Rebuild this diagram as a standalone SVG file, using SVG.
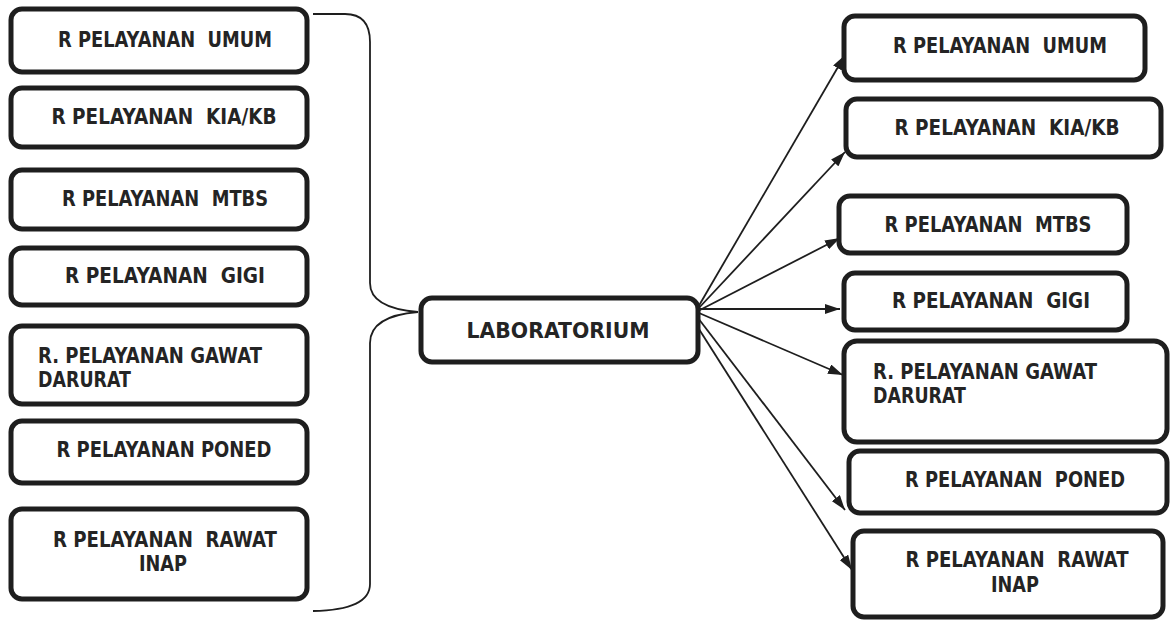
<svg xmlns="http://www.w3.org/2000/svg" width="1170" height="620" viewBox="0 0 1170 620">
  <style>
    .box { fill: #ffffff; stroke: #1e1e1e; stroke-width: 5; }
    .lbl { font-family: "DejaVu Sans", Verdana, sans-serif; font-weight: bold; font-size: 21.5px; fill: #242424; white-space: pre; }
    .mid { text-anchor: middle; }
    .wire { fill: none; stroke: #1e1e1e; stroke-width: 1.8; }
  </style>
  <defs>
    <marker id="arrow" viewBox="0 0 15 10" refX="15" refY="5" markerWidth="15" markerHeight="10" markerUnits="userSpaceOnUse" orient="auto">
      <path d="M0,0 L15,5 L0,10 Z" fill="#1e1e1e"/>
    </marker>
  </defs>
  <rect width="1170" height="620" fill="#ffffff"/>

  <!-- connectors -->
  <g id="connectors">
    <!-- brace gathering the left-hand rooms -->
    <path class="wire" d="M313,14 L345,14 Q370,14 370,42 L370,283 Q370,308 418,312"/>
    <path class="wire" d="M418,312 Q370,316 370,343 L370,584 Q370,610 313,611"/>
    <!-- arrows from the laboratory to each room -->
    <line class="wire" x1="697" y1="309" x2="845" y2="55" marker-end="url(#arrow)"/>
    <line class="wire" x1="697" y1="310" x2="845" y2="152" marker-end="url(#arrow)"/>
    <line class="wire" x1="698" y1="311" x2="840" y2="238" marker-end="url(#arrow)"/>
    <line class="wire" x1="699" y1="309" x2="840" y2="309" marker-end="url(#arrow)"/>
    <line class="wire" x1="699" y1="313" x2="843" y2="375" marker-end="url(#arrow)"/>
    <line class="wire" x1="698" y1="318" x2="845" y2="510" marker-end="url(#arrow)"/>
    <line class="wire" x1="697" y1="326" x2="852" y2="570" marker-end="url(#arrow)"/>
  </g>

  <!-- left column -->
  <g id="l-umum">
    <rect class="box" x="11" y="9" width="296" height="63" rx="11"/>
    <text class="lbl mid" x="165" y="47" xml:space="preserve" textLength="214" lengthAdjust="spacingAndGlyphs">R PELAYANAN  UMUM</text>
  </g>
  <g id="l-kia">
    <rect class="box" x="11" y="88" width="296" height="59" rx="11"/>
    <text class="lbl mid" x="164" y="124" xml:space="preserve" textLength="225" lengthAdjust="spacingAndGlyphs">R PELAYANAN  KIA/KB</text>
  </g>
  <g id="l-mtbs">
    <rect class="box" x="11" y="170" width="296" height="59" rx="11"/>
    <text class="lbl mid" x="165" y="206" xml:space="preserve" textLength="206" lengthAdjust="spacingAndGlyphs">R PELAYANAN  MTBS</text>
  </g>
  <g id="l-gigi">
    <rect class="box" x="11" y="248" width="296" height="57" rx="11"/>
    <text class="lbl mid" x="165" y="283" xml:space="preserve" textLength="200" lengthAdjust="spacingAndGlyphs">R PELAYANAN  GIGI</text>
  </g>
  <g id="l-gawat">
    <rect class="box" x="11" y="326" width="296" height="78" rx="11"/>
    <text class="lbl" x="38" y="363" textLength="224" lengthAdjust="spacingAndGlyphs">R. PELAYANAN GAWAT</text>
    <text class="lbl" x="38" y="387" textLength="93" lengthAdjust="spacingAndGlyphs">DARURAT</text>
  </g>
  <g id="l-poned">
    <rect class="box" x="11" y="421" width="296" height="62" rx="11"/>
    <text class="lbl mid" x="164" y="457" textLength="215" lengthAdjust="spacingAndGlyphs">R PELAYANAN PONED</text>
  </g>
  <g id="l-rawat">
    <rect class="box" x="11" y="509" width="296" height="90" rx="11"/>
    <text class="lbl mid" x="165" y="547" xml:space="preserve" textLength="224" lengthAdjust="spacingAndGlyphs">R PELAYANAN  RAWAT</text>
    <text class="lbl mid" x="163" y="571" textLength="48" lengthAdjust="spacingAndGlyphs">INAP</text>
  </g>

  <!-- hub -->
  <g id="laboratorium">
    <rect class="box" x="421" y="298" width="277" height="64" rx="11"/>
    <text class="lbl mid" x="558" y="338" textLength="183" lengthAdjust="spacingAndGlyphs">LABORATORIUM</text>
  </g>

  <!-- right column -->
  <g id="r-umum">
    <rect class="box" x="844" y="16" width="301" height="64" rx="11"/>
    <text class="lbl mid" x="1000" y="53" xml:space="preserve" textLength="214" lengthAdjust="spacingAndGlyphs">R PELAYANAN  UMUM</text>
  </g>
  <g id="r-kia">
    <rect class="box" x="846" y="99" width="315" height="58" rx="11"/>
    <text class="lbl mid" x="1007" y="135" xml:space="preserve" textLength="225" lengthAdjust="spacingAndGlyphs">R PELAYANAN  KIA/KB</text>
  </g>
  <g id="r-mtbs">
    <rect class="box" x="839" y="196" width="288" height="57" rx="11"/>
    <text class="lbl mid" x="988" y="232" xml:space="preserve" textLength="207" lengthAdjust="spacingAndGlyphs">R PELAYANAN  MTBS</text>
  </g>
  <g id="r-gigi">
    <rect class="box" x="844" y="273" width="283" height="57" rx="11"/>
    <text class="lbl mid" x="991" y="308" xml:space="preserve" textLength="198" lengthAdjust="spacingAndGlyphs">R PELAYANAN  GIGI</text>
  </g>
  <g id="r-gawat">
    <rect class="box" x="844" y="341" width="323" height="101" rx="13"/>
    <text class="lbl" x="873" y="379" textLength="224" lengthAdjust="spacingAndGlyphs">R. PELAYANAN GAWAT</text>
    <text class="lbl" x="873" y="403" textLength="93" lengthAdjust="spacingAndGlyphs">DARURAT</text>
  </g>
  <g id="r-poned">
    <rect class="box" x="849" y="451" width="318" height="62" rx="11"/>
    <text class="lbl mid" x="1015" y="487" xml:space="preserve" textLength="220" lengthAdjust="spacingAndGlyphs">R PELAYANAN  PONED</text>
  </g>
  <g id="r-rawat">
    <rect class="box" x="853" y="531" width="310" height="86" rx="11"/>
    <text class="lbl mid" x="1017" y="567" xml:space="preserve" textLength="223" lengthAdjust="spacingAndGlyphs">R PELAYANAN  RAWAT</text>
    <text class="lbl mid" x="1015" y="592" textLength="48" lengthAdjust="spacingAndGlyphs">INAP</text>
  </g>
</svg>
